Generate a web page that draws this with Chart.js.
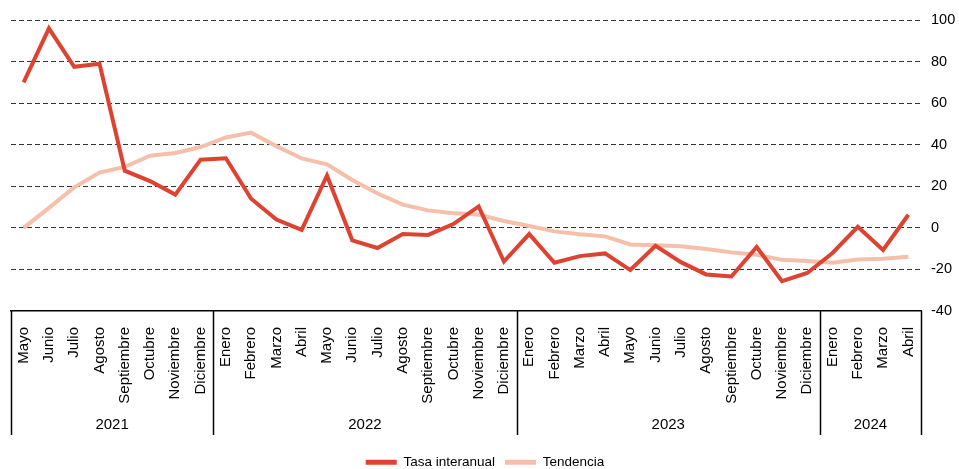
<!DOCTYPE html>
<html>
<head>
<meta charset="utf-8">
<script src="https://cdn.jsdelivr.net/npm/chart.js@4.4.1/dist/chart.umd.min.js"></script>
<style>
  html, body { margin: 0; padding: 0; background: #fff; }
  #wrap { width: 959px; height: 469px; }
</style>
</head>
<body>
<div id="wrap"><canvas id="tasaChart"></canvas></div>
<script>
var months = [
    'Mayo', 'Junio', 'Julio', 'Agosto', 'Septiembre', 'Octubre', 'Noviembre', 'Diciembre',
    'Enero', 'Febrero', 'Marzo', 'Abril', 'Mayo', 'Junio', 'Julio', 'Agosto', 'Septiembre', 'Octubre', 'Noviembre', 'Diciembre',
    'Enero', 'Febrero', 'Marzo', 'Abril', 'Mayo', 'Junio', 'Julio', 'Agosto', 'Septiembre', 'Octubre', 'Noviembre', 'Diciembre',
    'Enero', 'Febrero', 'Marzo', 'Abril'
];
var years = ['2021', '2022', '2023', '2024'];
var yearMonths = [8, 12, 12, 4];

var tasaInteranual = [
    70, 96, 77.5, 79, 27.5, 22.5, 16, 32.8,
    33.5, 14, 4, -1, 25.2, -6, -9.7, -3, -3.4, 1.8, 10.3, -16.2,
    -3, -16.8, -13.6, -12.3, -20.3, -8.6, -16.5, -22.4, -23.4, -9.2, -25.6, -21.7,
    -12.1, 0.5, -10.6, 6.3
];
var tendencia = [
    0, 9.6, 19.5, 26.6, 29.3, 34.7, 36, 38.9,
    43.5, 45.8, 39.3, 33.4, 30.6, 23, 16.5, 11.2, 8.4, 7, 6.4, 3.3,
    0.9, -1.7, -3.1, -4.1, -8, -8.4, -8.9, -10.2, -11.8, -12.9, -15.4, -15.9,
    -16.8, -15.2, -14.9, -13.9
];

var fontFamily = '"Liberation Sans", Arial, sans-serif';
var yearBand = 124; // depth of the month/year box under the plot

// separators and year labels under the month ticks
var yearAxisPlugin = {
    id: 'yearAxis',
    afterDraw: function (chart) {
        var x = chart.scales.x;
        var ctx = chart.ctx;
        var step = x.getPixelForValue(1) - x.getPixelForValue(0);
        var left = x.getPixelForValue(0) - step / 2;
        var top = x.top;
        var bottom = x.top + yearBand;

        ctx.save();
        ctx.strokeStyle = '#000';
        ctx.lineWidth = 1.5;
        ctx.fillStyle = '#000';
        ctx.font = '15px ' + fontFamily;
        ctx.textAlign = 'center';
        ctx.textBaseline = 'middle';

        var idx = 0;
        var bounds = [0];
        for (var i = 0; i < yearMonths.length; i++) {
            idx += yearMonths[i];
            bounds.push(idx);
        }
        bounds.forEach(function (b) {
            var px = Math.round(left + b * step) + 0.5;
            ctx.beginPath();
            ctx.moveTo(px, top);
            ctx.lineTo(px, bottom);
            ctx.stroke();
        });
        for (var j = 0; j < years.length; j++) {
            var cx = left + (bounds[j] + bounds[j + 1]) / 2 * step;
            ctx.fillText(years[j], cx, bottom - 10);
        }
        ctx.restore();
    }
};

var tasaChart = new Chart(document.getElementById('tasaChart'), {
    type: 'line',
    data: {
        labels: months,
        datasets: [
            {
                label: 'Tasa interanual',
                data: tasaInteranual,
                borderColor: '#de4231',
                backgroundColor: '#de4231',
                borderWidth: 4,
                pointRadius: 0,
                tension: 0
            },
            {
                label: 'Tendencia',
                data: tendencia,
                borderColor: '#f5bfaa',
                backgroundColor: '#f5bfaa',
                borderWidth: 4,
                pointRadius: 0,
                tension: 0
            }
        ]
    },
    options: {
        responsive: true,
        maintainAspectRatio: false,
        animation: false,
        layout: { padding: { left: 11, top: 20, right: 0, bottom: -10 } },
        plugins: {
            tooltip: { enabled: false },
            legend: {
                position: 'bottom',
                labels: {
                    boxWidth: 31,
                    boxHeight: 5,
                    padding: 10,
                    color: '#000',
                    font: { family: fontFamily, size: 13.5 },
                    generateLabels: function (chart) {
                        var items = Chart.defaults.plugins.legend.labels.generateLabels(chart);
                        items.forEach(function (it) { it.lineWidth = 0; });
                        return items;
                    }
                }
            }
        },
        scales: {
            x: {
                offset: true,
                grid: { display: false },
                border: { display: true, color: '#000', width: 1.5 },
                ticks: {
                    autoSkip: false,
                    minRotation: 90,
                    maxRotation: 90,
                    padding: 8,
                    color: '#000',
                    font: { family: fontFamily, size: 15 }
                },
                afterFit: function (scale) { scale.height = 134.5; }
            },
            y: {
                position: 'right',
                min: -40,
                max: 100,
                ticks: {
                    stepSize: 20,
                    padding: 10,
                    color: '#000',
                    font: { family: fontFamily, size: 14.5 }
                },
                border: { display: false, dash: [5, 3] },
                grid: {
                    drawTicks: false,
                    lineWidth: 1,
                    color: function (c) {
                        return c.tick && c.tick.value === -40 ? 'rgba(0,0,0,0)' : '#333';
                    }
                },
                afterFit: function (scale) { scale.width = 38; }
            }
        }
    },
    plugins: [yearAxisPlugin]
});
</script>
</body>
</html>
